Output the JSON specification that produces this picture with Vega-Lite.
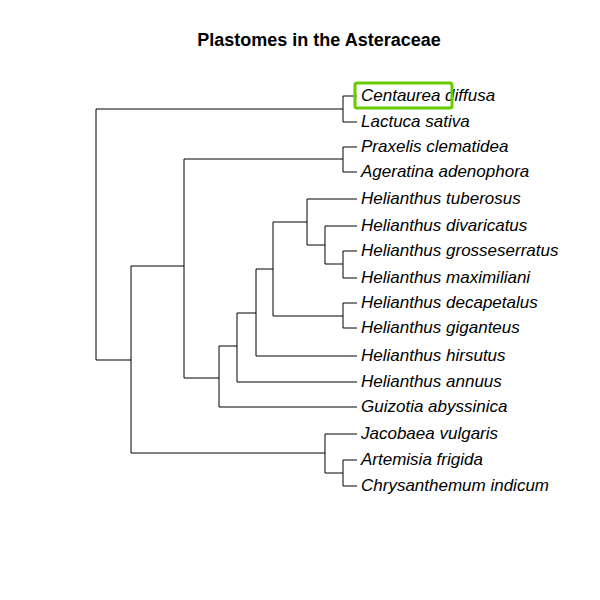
{
  "$schema": "https://vega.github.io/schema/vega-lite/v6.json",
  "width": 600,
  "height": 600,
  "autosize": {"type": "fit", "contains": "padding"},
  "padding": 0,
  "background": "white",
  "config": {"view": {"stroke": null}},
  "datasets": {
    "edges": [
      {"x": 96, "x2": 96, "y": 109, "y2": 360},
      {"x": 131, "x2": 131, "y": 266, "y2": 453},
      {"x": 184, "x2": 184, "y": 159, "y2": 378},
      {"x": 343, "x2": 343, "y": 96, "y2": 122},
      {"x": 343, "x2": 343, "y": 147, "y2": 172},
      {"x": 219, "x2": 219, "y": 346, "y2": 407},
      {"x": 237, "x2": 237, "y": 313, "y2": 382},
      {"x": 256, "x2": 256, "y": 269, "y2": 356},
      {"x": 273, "x2": 273, "y": 222, "y2": 316},
      {"x": 307, "x2": 307, "y": 199, "y2": 245},
      {"x": 325, "x2": 325, "y": 226, "y2": 264},
      {"x": 343, "x2": 343, "y": 251, "y2": 278},
      {"x": 343, "x2": 343, "y": 303, "y2": 328},
      {"x": 325, "x2": 325, "y": 434, "y2": 473},
      {"x": 343, "x2": 343, "y": 460, "y2": 486},
      {"x": 96, "x2": 343, "y": 109, "y2": 109},
      {"x": 96, "x2": 131, "y": 360, "y2": 360},
      {"x": 131, "x2": 184, "y": 266, "y2": 266},
      {"x": 131, "x2": 325, "y": 453, "y2": 453},
      {"x": 184, "x2": 343, "y": 159, "y2": 159},
      {"x": 184, "x2": 219, "y": 378, "y2": 378},
      {"x": 219, "x2": 237, "y": 346, "y2": 346},
      {"x": 219, "x2": 357, "y": 407, "y2": 407},
      {"x": 237, "x2": 256, "y": 313, "y2": 313},
      {"x": 237, "x2": 357, "y": 382, "y2": 382},
      {"x": 256, "x2": 273, "y": 269, "y2": 269},
      {"x": 256, "x2": 357, "y": 356, "y2": 356},
      {"x": 273, "x2": 307, "y": 222, "y2": 222},
      {"x": 273, "x2": 343, "y": 316, "y2": 316},
      {"x": 307, "x2": 357, "y": 199, "y2": 199},
      {"x": 307, "x2": 325, "y": 245, "y2": 245},
      {"x": 325, "x2": 357, "y": 226, "y2": 226},
      {"x": 325, "x2": 343, "y": 264, "y2": 264},
      {"x": 325, "x2": 357, "y": 434, "y2": 434},
      {"x": 325, "x2": 343, "y": 473, "y2": 473},
      {"x": 343, "x2": 357, "y": 96, "y2": 96},
      {"x": 343, "x2": 357, "y": 122, "y2": 122},
      {"x": 343, "x2": 357, "y": 147, "y2": 147},
      {"x": 343, "x2": 357, "y": 172, "y2": 172},
      {"x": 343, "x2": 357, "y": 251, "y2": 251},
      {"x": 343, "x2": 357, "y": 278, "y2": 278},
      {"x": 343, "x2": 357, "y": 303, "y2": 303},
      {"x": 343, "x2": 357, "y": 328, "y2": 328},
      {"x": 343, "x2": 357, "y": 460, "y2": 460},
      {"x": 343, "x2": 357, "y": 486, "y2": 486}
    ],
    "tips": [
      {"name": "Centaurea diffusa", "x": 361, "y": 96},
      {"name": "Lactuca sativa", "x": 361, "y": 122},
      {"name": "Praxelis clematidea", "x": 361, "y": 147},
      {"name": "Ageratina adenophora", "x": 361, "y": 172},
      {"name": "Helianthus tuberosus", "x": 361, "y": 199},
      {"name": "Helianthus divaricatus", "x": 361, "y": 226},
      {"name": "Helianthus grosseserratus", "x": 361, "y": 251},
      {"name": "Helianthus maximiliani", "x": 361, "y": 278},
      {"name": "Helianthus decapetalus", "x": 361, "y": 303},
      {"name": "Helianthus giganteus", "x": 361, "y": 328},
      {"name": "Helianthus hirsutus", "x": 361, "y": 356},
      {"name": "Helianthus annuus", "x": 361, "y": 382},
      {"name": "Guizotia abyssinica", "x": 361, "y": 407},
      {"name": "Jacobaea vulgaris", "x": 361, "y": 434},
      {"name": "Artemisia frigida", "x": 361, "y": 460},
      {"name": "Chrysanthemum indicum", "x": 361, "y": 486}
    ],
    "box": [{"x": 355, "x2": 452, "y": 83, "y2": 108}],
    "heading": [{"label": "Plastomes in the Asteraceae", "x": 319, "y": 41}]
  },
  "layer": [
    {
      "data": {"name": "edges"},
      "mark": {"type": "rule", "color": "black", "strokeWidth": 1},
      "encoding": {
        "x": {"field": "x", "type": "quantitative", "scale": {"domain": [0, 600]}, "axis": null},
        "x2": {"field": "x2"},
        "y": {"field": "y", "type": "quantitative", "scale": {"domain": [0, 600], "reverse": true}, "axis": null},
        "y2": {"field": "y2"}
      }
    },
    {
      "data": {"name": "tips"},
      "mark": {"type": "text", "align": "left", "baseline": "middle", "font": "Liberation Sans", "fontStyle": "italic", "fontSize": 17, "color": "black", "limit": 200, "ellipsis": ""},
      "encoding": {
        "x": {"field": "x", "type": "quantitative"},
        "y": {"field": "y", "type": "quantitative"},
        "text": {"field": "name"}
      }
    },
    {
      "data": {"name": "box"},
      "mark": {"type": "rect", "fill": null, "stroke": "#66cc00", "strokeWidth": 3, "cornerRadius": 2},
      "encoding": {
        "x": {"field": "x", "type": "quantitative"},
        "x2": {"field": "x2"},
        "y": {"field": "y", "type": "quantitative"},
        "y2": {"field": "y2"}
      }
    },
    {
      "data": {"name": "heading"},
      "mark": {"type": "text", "align": "center", "baseline": "middle", "font": "Liberation Sans", "fontWeight": "bold", "fontSize": 18, "color": "black"},
      "encoding": {
        "x": {"field": "x", "type": "quantitative"},
        "y": {"field": "y", "type": "quantitative"},
        "text": {"field": "label"}
      }
    }
  ]
}
